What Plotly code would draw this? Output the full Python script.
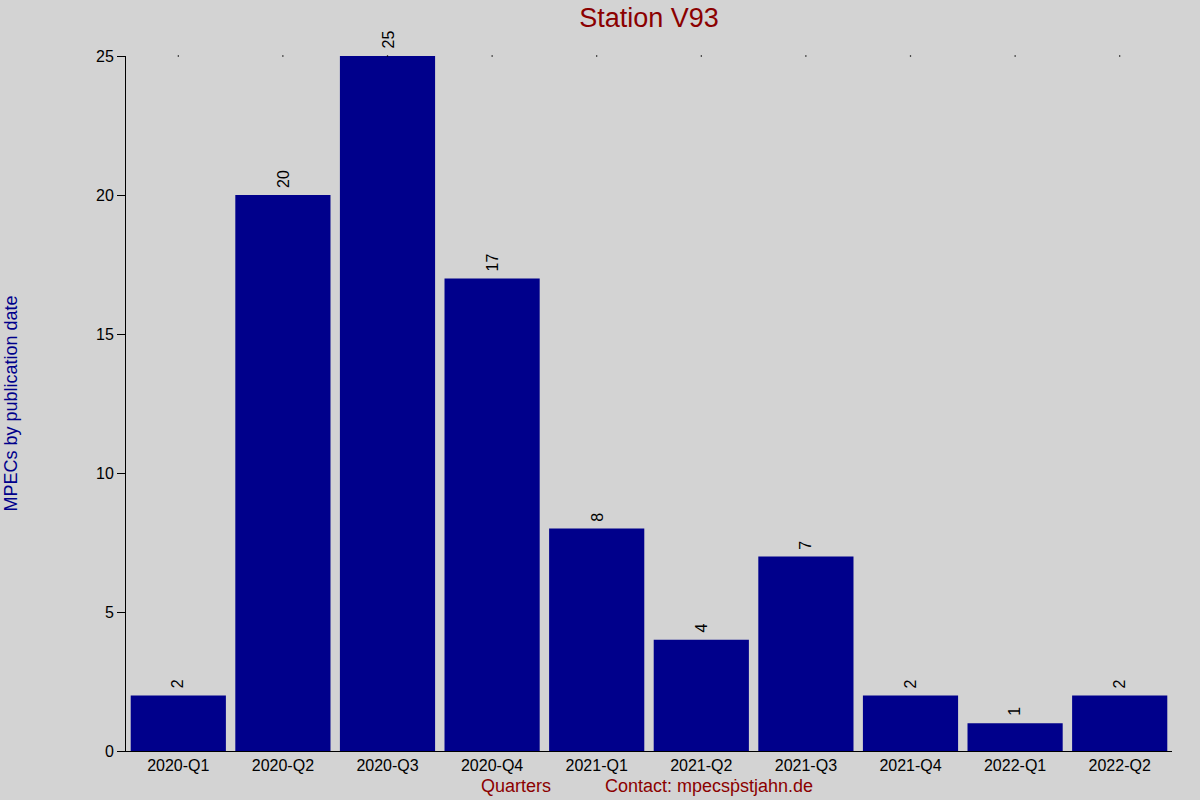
import plotly.graph_objects as go

quarters = ["2020-Q1", "2020-Q2", "2020-Q3", "2020-Q4", "2021-Q1",
            "2021-Q2", "2021-Q3", "2021-Q4", "2022-Q1", "2022-Q2"]
counts = [2, 20, 25, 17, 8, 4, 7, 2, 1, 2]
y_ticks = [0, 5, 10, 15, 20, 25]

W, H = 1200, 800
L, R, T, B = 126, 28, 56, 49
pw = W - L - R
ph = H - T - B
FONT = "Liberation Sans, Arial, sans-serif"

fig = go.Figure()
fig.add_trace(go.Bar(
    x=quarters, y=counts,
    marker=dict(color="#00008B", line=dict(width=0)),
    showlegend=False,
))
# top tick dots
fig.add_trace(go.Scatter(x=quarters, y=[max(y_ticks)] * len(quarters), xaxis="x2",
                         mode="markers", marker=dict(size=1.5, color="black"),
                         showlegend=False, hoverinfo="skip", cliponaxis=False))

annotations = [
    dict(x=q, y=c, text=str(c), xref="x", yref="y", textangle=-90,
         xanchor="center", yanchor="bottom", yshift=5, showarrow=False,
         font=dict(size=16, color="black", family=FONT))
    for q, c in zip(quarters, counts)
]
annotations += [
    dict(text="MPECs by publication date", xref="paper", yref="paper",
         x=(10 - L) / pw, y=0.5, xanchor="center", yanchor="middle",
         textangle=-90, showarrow=False,
         font=dict(size=18, color="#00008B")),
    dict(text="Quarters", xref="paper", yref="paper",
         x=(516 - L) / pw, y=-(786 - (T + ph)) / ph, xanchor="center",
         yanchor="middle", showarrow=False,
         font=dict(size=18, color="#8B0000")),
    dict(text="Contact: mpecsṗstjahn.de", xref="paper", yref="paper",
         x=(603 - L) / pw, y=-(786 - (T + ph)) / ph, xanchor="left",
         yanchor="middle", showarrow=False,
         font=dict(size=18, color="#8B0000")),
]

fig.update_layout(
    width=W, height=H,
    margin=dict(l=L, r=R, t=T, b=B),
    paper_bgcolor="#D3D3D3",
    plot_bgcolor="#D3D3D3",
    bargap=0.09,
    font=dict(family=FONT, size=16, color="black"),
    title=dict(text="Station V93", x=(L + pw / 2) / W, xanchor="center",
               y=1 - 18 / H, yanchor="middle",
               font=dict(size=27, color="#8B0000")),
    xaxis=dict(type="category", range=[-0.5, len(quarters) - 0.5],
               showgrid=False, showline=True, linecolor="black", linewidth=1,
               ticks="", tickfont=dict(size=16, color="black"), zeroline=False),
    xaxis2=dict(type="category", overlaying="x", matches="x", showgrid=False,
                showticklabels=False, showline=False, ticks="", zeroline=False),
    yaxis=dict(range=[0, max(y_ticks)], tickvals=y_ticks, showgrid=False,
               showline=True, linecolor="black", linewidth=1,
               ticks="outside", ticklen=8, tickcolor="black",
               tickfont=dict(size=16, color="black"), zeroline=False),
    annotations=annotations,
)

fig.write_html("out.html", config={"displayModeBar": False},
               post_script="document.body.style.margin='0px';document.body.style.overflow='hidden';")
